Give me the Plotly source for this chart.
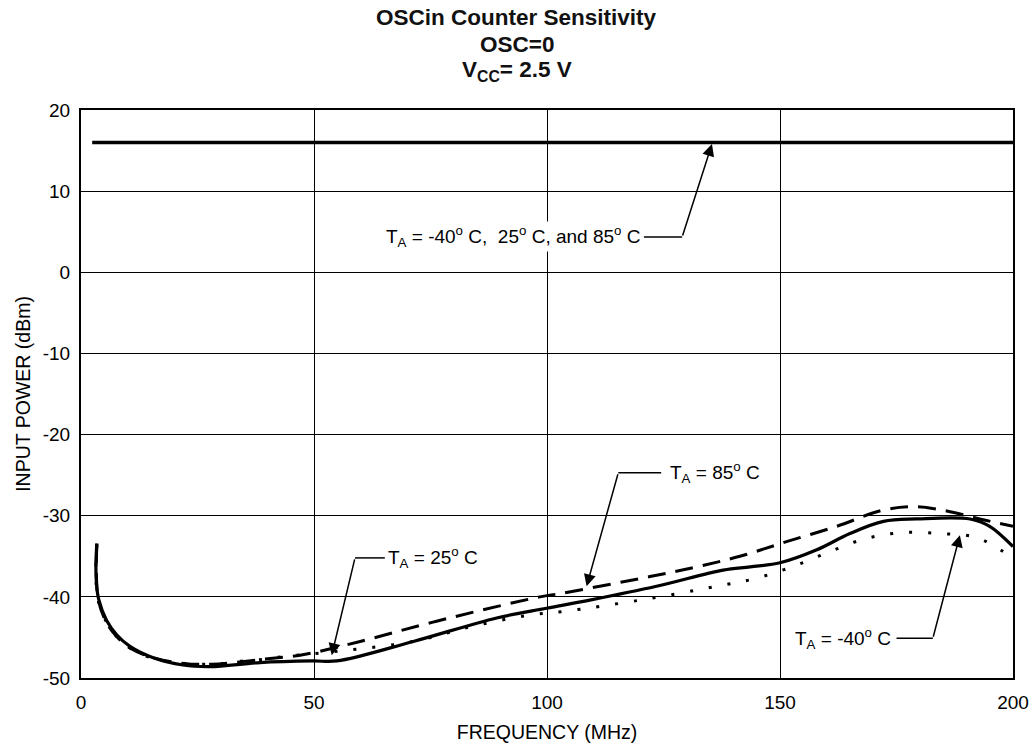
import plotly.graph_objects as go

# ---- data ----
all_temps_freq = [2.4, 200]
all_temps_power = [16, 16]

t25_freq = [3.4, 3.2, 3.3, 3.8, 5.5, 7.7, 10.5, 15.5, 21.9, 27.7, 38.4, 49.8, 54.9,
            71.3, 89.2, 99.9, 109.2, 123.5, 137.8, 143.6, 150, 157.9, 165, 172.2,
            179.3, 190.8, 195, 200]
t25_power = [-33.4, -36.0, -38.2, -40.3, -42.9, -44.7, -46.1, -47.5, -48.4, -48.6, -48.1, -47.9, -47.9,
             -45.5, -42.6, -41.4, -40.4, -38.7, -36.7, -36.3, -35.8, -34.2, -32.2, -30.7,
             -30.4, -30.4, -31.3, -33.8]

t85_freq = [3.4, 3.3, 3.7, 5.3, 7.5, 10.5, 15.5, 22, 28, 39, 47, 51.3, 59.9, 76.3, 98.5,
            102.8, 122.1, 132.1, 141.4, 151.4, 162.2, 172.2, 179.3, 186.5, 193.6, 200]
t85_power = [-33.6, -37.0, -40.3, -43.0, -44.8, -46.3, -47.5, -48.2, -48.3, -47.7, -47.2, -46.7, -45.5,
             -43.0, -40.0, -39.6, -37.5, -36.3, -35.0, -33.2, -31.3, -29.3, -28.9, -29.5, -30.5, -31.3]

tm40_freq = [3.4, 3.2, 3.6, 5.2, 7.5, 10.5, 15.5, 22.3, 26.6, 30.7, 34.7, 39, 43, 55.2, 71.3,
             83.5, 95.6, 103.5, 120, 136.4, 144.3, 152.1, 160, 167.9, 175.8, 184.3, 192.2, 199.4]
tm40_power = [-33.5, -37.0, -40.2, -42.8, -44.8, -46.3, -47.6, -48.2, -48.3, -48.2, -47.9, -47.7, -47.4,
              -46.7, -45.5, -43.7, -42.3, -41.8, -40.4, -38.7, -37.8, -36.4, -34.6, -32.9, -32.1,
              -32.2, -32.7, -35.0]

x_ticks = [0, 50, 100, 150, 200]
x_tick_labels = ["0", "50", "100", "150", "200"]
y_ticks = [20, 10, 0, -10, -20, -30, -40, -50]
y_tick_labels = ["20", "10", "0", "-10", "-20", "-30", "-40", "-50"]

# callouts: text, text anchor point, elbow segment (start,end), arrow head
callout_texts = ["T<sub>A</sub> = -40<sup>o</sup> C,  25<sup>o</sup> C, and 85<sup>o</sup> C",
                 "T<sub>A</sub> = 25<sup>o</sup> C",
                 "T<sub>A</sub> = 85<sup>o</sup> C",
                 "T<sub>A</sub> = -40<sup>o</sup> C"]
callout_text_x = [120.4, 65.4, 126.0, 174.2]
callout_text_side = ["right", "left", "left", "right"]
callout_y = [4.35, -35.2, -24.7, -45.1]
callout_seg_x0 = [120.8, 58.8, 115.3, 175.0]
callout_seg_x1 = [129.0, 65.2, 124.5, 182.8]
callout_tail_x = [129.0, 58.8, 115.3, 182.8]
callout_head_x = [135.4, 53.8, 108.5, 188.6]
callout_head_y = [15.8, -47.2, -38.7, -32.4]

FONT = "Liberation Sans, Arial, sans-serif"

fig = go.Figure()
fig.add_trace(go.Scatter(x=all_temps_freq, y=all_temps_power, mode="lines",
                         line=dict(color="black", width=3.5), showlegend=False))
fig.add_trace(go.Scatter(x=t85_freq, y=t85_power, mode="lines", line_shape="spline",
                         line=dict(color="black", width=3, dash="18px,10px"), showlegend=False))
fig.add_trace(go.Scatter(x=tm40_freq, y=tm40_power, mode="lines", line_shape="spline",
                         line=dict(color="black", width=3, dash="3px,16px"), showlegend=False))
fig.add_trace(go.Scatter(x=t25_freq, y=t25_power, mode="lines", line_shape="spline",
                         line=dict(color="black", width=3.2), showlegend=False))

annotations = []
shapes = []
for i, txt in enumerate(callout_texts):
    annotations.append(dict(x=callout_text_x[i], y=callout_y[i], xref="x", yref="y",
                            text=txt, showarrow=False, xanchor=callout_text_side[i],
                            yanchor="middle", bgcolor="white", borderpad=1,
                            font=dict(family=FONT, size=19, color="black")))
    shapes.append(dict(type="line", xref="x", yref="y",
                       x0=callout_seg_x0[i], x1=callout_seg_x1[i],
                       y0=callout_y[i], y1=callout_y[i],
                       line=dict(color="black", width=1.5)))
    annotations.append(dict(x=callout_head_x[i], y=callout_head_y[i], xref="x", yref="y",
                            ax=callout_tail_x[i], ay=callout_y[i], axref="x", ayref="y",
                            text="", showarrow=True, arrowhead=2, arrowsize=1.6,
                            arrowwidth=1.5, arrowcolor="black", standoff=0, startstandoff=0))

title_lines = ["<b>OSCin Counter Sensitivity</b>", "<b>OSC=0</b>",
               "<b>V<sub>CC</sub>= 2.5 V</b>"]
title_y_px = [17.5, 44.5, 71]
for t, ypx in zip(title_lines, title_y_px):
    annotations.append(dict(x=0.4678, y=1 + (110 - ypx) / 568, xref="paper", yref="paper",
                            text=t, showarrow=False, xanchor="center", yanchor="middle",
                            font=dict(family=FONT, size=22.5, color="#111111")))

fig.update_layout(
    width=1034, height=755,
    margin=dict(l=81, r=21, t=110, b=77),
    paper_bgcolor="white", plot_bgcolor="white",
    font=dict(family=FONT, color="black"),
    annotations=annotations, shapes=shapes,
    xaxis=dict(range=[0, 200], tickvals=x_ticks, ticktext=x_tick_labels, showgrid=True,
               gridcolor="black", gridwidth=1.3, zeroline=False, showline=True,
               linecolor="black", linewidth=2, mirror=True, ticks="", ticklabelstandoff=6,
               automargin=False, tickfont=dict(size=19, family=FONT, color="black"),
               title=dict(text="FREQUENCY (MHz)", standoff=14,
                          font=dict(size=19.5, family=FONT, color="black"))),
    yaxis=dict(range=[-50, 20], tickvals=y_ticks, ticktext=y_tick_labels, showgrid=True,
               gridcolor="black", gridwidth=1.3, zeroline=False, showline=True,
               linecolor="black", linewidth=2, mirror=True, ticks="", ticklabelstandoff=5,
               automargin=False, tickfont=dict(size=19, family=FONT, color="black"),
               title=dict(text="INPUT POWER (dBm)", standoff=7,
                          font=dict(size=19.5, family=FONT, color="black"))),
)

fig.write_html("out.html", config={"displayModeBar": False},
               post_script="document.body.style.margin='0';")
